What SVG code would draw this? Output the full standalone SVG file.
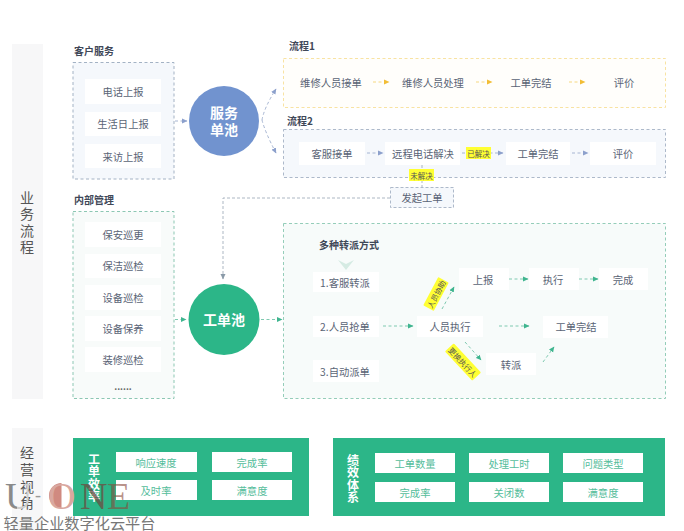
<svg xmlns="http://www.w3.org/2000/svg" width="684" height="531" viewBox="0 0 684 531">
<style>
text{font-family:"Noto Sans CJK SC","Liberation Sans",sans-serif;text-anchor:middle;dominant-baseline:central}
.t{font-size:10.3px;fill:#5a6476}
.h{font-size:10px;font-weight:700;fill:#3f4858;text-anchor:start}
.s{font-size:14px;fill:#555}
.w{fill:#fff}
.g{fill:#55bd9b;font-size:10.3px}
.y{fill:#ffff33}
.yt{font-size:7.5px;fill:#555}
.b{font-size:14px;font-weight:700;fill:#fff}
.v{font-size:12px;font-weight:700;fill:#fff}
.bl{fill:none;stroke:#a6b5d2;stroke-width:1;stroke-dasharray:3 2.5}
.gl{fill:none;stroke:#7fc9b0;stroke-width:1;stroke-dasharray:3 2.5}
.ol{fill:none;stroke:#f6d880;stroke-width:1;stroke-dasharray:3 2.5}
.gy{fill:none;stroke:#98a4b4;stroke-width:.8;stroke-dasharray:3 2}
.wm{font-family:"Liberation Serif",serif;font-size:38px;text-anchor:start}
</style>
<defs>
<marker id="ab" markerUnits="userSpaceOnUse" markerWidth="6" markerHeight="6" refX="5" refY="3" orient="auto"><path d="M0 0.5L5.500 3L0 5.500Z" fill="#8ca0cc"/></marker>
<marker id="ag" markerUnits="userSpaceOnUse" markerWidth="6" markerHeight="6" refX="5" refY="3" orient="auto"><path d="M0 0.5L5.500 3L0 5.500Z" fill="#3fb58f"/></marker>
<marker id="ao" markerUnits="userSpaceOnUse" markerWidth="6" markerHeight="6" refX="5" refY="3" orient="auto"><path d="M0 0.5L5.500 3L0 5.500Z" fill="#f2bd35"/></marker>
<marker id="ay" markerUnits="userSpaceOnUse" markerWidth="6" markerHeight="6" refX="5" refY="3" orient="auto"><path d="M0 0.5L5.500 3L0 5.500Z" fill="#8a9aa8"/></marker>
<linearGradient id="wu" x1="0" x2="1" y1="0" y2="0"><stop offset=".45" stop-color="#8a8a8a"/><stop offset=".45" stop-color="#cfcfcf"/></linearGradient>
</defs>
<rect width="684" height="531" fill="#fff"/>
<g id="side1"><rect x="12" y="44" width="31" height="355" fill="#f7f7f8"/><text class="s" x="27" y="197">业</text><text class="s" x="27" y="213">务</text><text class="s" x="27" y="230">流</text><text class="s" x="27" y="246">程</text></g>
<g id="side2"><rect x="12" y="428" width="31" height="103" fill="#f7f7f8"/><text class="s" x="27" y="452">经</text><text class="s" x="27" y="469">营</text><text class="s" x="27" y="486">视</text><text class="s" x="27" y="502">角</text></g>
<g id="customer"><text class="h" x="74" y="50">客户服务</text><rect x="73" y="62.500" width="101" height="116.500" fill="#f5f8fc" stroke="#a3b2c4" stroke-dasharray="3 2.500"/>
<rect class="w" x="85" y="79" width="76" height="25"/><text class="t" x="123" y="91">电话上报</text>
<rect class="w" x="85" y="112" width="76" height="24"/><text class="t" x="123" y="123.500">生活日上报</text>
<rect class="w" x="85" y="144" width="76" height="24"/><text class="t" x="123" y="156">来访上报</text></g>
<g id="pool1"><circle cx="224" cy="121" r="35" fill="#7193cf"/><text class="b" x="224" y="112">服务</text><text class="b" x="224" y="129">单池</text></g>
<g id="flow1"><text class="h" x="289" y="45">流程1</text><rect x="283.500" y="58.500" width="382" height="49" fill="#fffefb" stroke="#f8e3a2" stroke-dasharray="3 2.500"/>
<text class="t" x="331" y="82">维修人员接单</text><text class="t" x="433" y="82">维修人员处理</text><text class="t" x="531" y="82">工单完结</text><text class="t" x="624" y="82">评价</text></g>
<g id="flow2"><text class="h" x="287" y="120.500">流程2</text><rect x="283.500" y="129.500" width="382" height="48" fill="#f5f8fc" stroke="#adb9ca" stroke-dasharray="3 2.500"/>
<rect class="w" x="299" y="142" width="66" height="23"/><text class="t" x="332" y="153">客服接单</text>
<rect class="w" x="385" y="142" width="75" height="23"/><text class="t" x="423" y="153">远程电话解决</text>
<rect class="w" x="506" y="142" width="64" height="23"/><text class="t" x="538" y="153">工单完结</text>
<rect class="w" x="590" y="142" width="66" height="23"/><text class="t" x="623" y="153">评价</text></g>
<g id="launch"><rect x="390.500" y="187.500" width="63" height="20" fill="#f5f8fc" stroke="#adb9ca" stroke-dasharray="3 2"/><text class="t" x="422" y="197.500">发起工单</text></g>
<g id="internal"><text class="h" x="74" y="199">内部管理</text><rect x="73" y="211.500" width="101" height="187" fill="#f8fbfa" stroke="#8cc7b3" stroke-dasharray="3 2.500"/>
<rect class="w" x="85" y="222" width="76" height="25"/><text class="t" x="123" y="234">保安巡更</text>
<rect class="w" x="85" y="254" width="76" height="24"/><text class="t" x="123" y="265.500">保洁巡检</text>
<rect class="w" x="85" y="285" width="76" height="25"/><text class="t" x="123" y="297">设备巡检</text>
<rect class="w" x="85" y="316" width="76" height="25"/><text class="t" x="123" y="328">设备保养</text>
<rect class="w" x="85" y="347" width="76" height="25"/><text class="t" x="123" y="359">装修巡检</text>
<text x="123" y="386" font-size="9" font-weight="700" fill="#666" font-family="Liberation Sans">......</text></g>
<g id="pool2"><circle cx="224" cy="319.500" r="35.500" fill="#2cb688"/><text class="b" x="224" y="319">工单池</text></g>
<g id="dispatch"><rect x="283.500" y="223.500" width="382" height="175" fill="#f7fbfa" stroke="#94cdb9" stroke-dasharray="3 2.500"/>
<text class="h" x="319" y="244">多种转派方式</text>
<path d="M338 260L346 270L354 260L346 264Z" fill="#d5ebe3"/>
<rect class="w" x="313" y="272" width="66" height="20"/><text class="t" x="345" y="282">1.客服转派</text>
<rect class="w" x="313" y="316" width="66" height="21"/><text class="t" x="345" y="326.500">2.人员抢单</text>
<rect class="w" x="313" y="360" width="66" height="22"/><text class="t" x="345" y="371">3.自动派单</text>
<rect class="w" x="417" y="316" width="66" height="21"/><text class="t" x="450" y="326.500">人员执行</text>
<rect class="w" x="459" y="268" width="50" height="22"/><text class="t" x="483" y="279">上报</text>
<rect class="w" x="529" y="268" width="50" height="22"/><text class="t" x="553" y="279">执行</text>
<rect class="w" x="599" y="268" width="49" height="22"/><text class="t" x="623" y="279">完成</text>
<rect class="w" x="543" y="316" width="65" height="22"/><text class="t" x="576" y="326.500">工单完结</text>
<rect class="w" x="486" y="353" width="50" height="22"/><text class="t" x="511" y="364">转派</text></g>
<g id="kpi1"><rect x="73" y="438" width="236" height="78" fill="#2cb688"/><text class="v" x="94" y="458">工</text><text class="v" x="94" y="470.500">单</text><text class="v" x="94" y="483">效</text><text class="v" x="94" y="495.500">率</text>
<rect class="w" x="116" y="452" width="81" height="20"/><text class="g" x="156" y="462">响应速度</text>
<rect class="w" x="212" y="452" width="80" height="20"/><text class="g" x="252" y="462">完成率</text>
<rect class="w" x="116" y="480" width="81" height="20"/><text class="g" x="156" y="490">及时率</text>
<rect class="w" x="212" y="480" width="80" height="20"/><text class="g" x="252" y="490">满意度</text></g>
<g id="kpi2"><rect x="333" y="438" width="332" height="78" fill="#2cb688"/><text class="v" x="353" y="459">绩</text><text class="v" x="353" y="471.500">效</text><text class="v" x="353" y="484">体</text><text class="v" x="353" y="496.500">系</text>
<rect class="w" x="375" y="453" width="80" height="20"/><text class="g" x="415" y="463">工单数量</text>
<rect class="w" x="469" y="453" width="80" height="20"/><text class="g" x="509" y="463">处理工时</text>
<rect class="w" x="563" y="453" width="80" height="20"/><text class="g" x="603" y="463">问题类型</text>
<rect class="w" x="375" y="482" width="80" height="20"/><text class="g" x="415" y="492">完成率</text>
<rect class="w" x="469" y="482" width="80" height="20"/><text class="g" x="509" y="492">关闭数</text>
<rect class="w" x="563" y="482" width="80" height="20"/><text class="g" x="603" y="492">满意度</text></g>
<g id="connectors">
<path class="bl" d="M175 121H187" marker-end="url(#ab)"/>
<path class="bl" d="M262 120Q264 108 276 89" marker-end="url(#ab)"/>
<path class="bl" d="M262 120Q265 132 276 153" marker-end="url(#ab)"/>
<path class="ol" d="M373 82H389" marker-end="url(#ao)"/><path class="ol" d="M476 82H492" marker-end="url(#ao)"/><path class="ol" d="M569 82H585" marker-end="url(#ao)"/>
<path class="bl" d="M367 153H383" marker-end="url(#ab)"/><path class="bl" d="M462 153H503" marker-end="url(#ab)"/><path class="bl" d="M572 153H588" marker-end="url(#ab)"/>
<path class="gy" d="M422 165V187"/>
<path class="gy" d="M390 198H223V279" marker-end="url(#ay)"/>
<path class="gl" d="M175 319.500H186" marker-end="url(#ag)"/><path class="gl" d="M261 319.500H282" marker-end="url(#ag)"/>
<path class="gl" d="M383 326H413" marker-end="url(#ag)"/><path class="gl" d="M499 326H529" marker-end="url(#ag)"/>
<path class="gl" d="M509 279H528" marker-end="url(#ag)"/><path class="gl" d="M579 279H598" marker-end="url(#ag)"/>
<path class="gl" d="M442 309L454 287" marker-end="url(#ag)"/><path class="gl" d="M465 342L481 360" marker-end="url(#ag)"/><path class="gl" d="M543 362L554 347" marker-end="url(#ag)"/>
</g>
<g id="labels">
<rect class="y" x="466" y="147" width="25" height="12"/><text class="yt" x="478.500" y="153">已解决</text>
<rect class="y" x="409" y="169" width="25" height="12"/><text class="yt" x="421.500" y="175">未解决</text>
<g transform="translate(436 294) rotate(-62)"><rect class="y" x="-16" y="-6" width="32" height="12" rx="1"/><text class="yt" x="0" y="0">人员协助</text></g>
<g transform="translate(463 362) rotate(47)"><rect class="y" x="-20" y="-6" width="40" height="12" rx="1"/><text class="yt" x="0" y="0">更换执行人</text></g>
</g>
<g id="watermark">
<text class="wm" x="5" y="496" fill="url(#wu)" dominant-baseline="auto">U</text>
<text class="wm" x="35" y="495" fill="#999" style="font-size:18px">-</text>
<path d="M61.500 483A12.500 12.500 0 0 0 61.500 508Z" fill="#d08a80"/>
<text class="wm" x="48" y="496" fill="#d9a8a0">O</text>
<text class="wm" x="80" y="496" fill="#6e4a40" fill-opacity=".75">N</text>
<text class="wm" x="107" y="496" fill="#8a4a3a" fill-opacity=".6">E</text>
<text x="79.500" y="522" font-size="15.200" fill="#777">轻量企业数字化云平台</text>
</g>
</svg>
